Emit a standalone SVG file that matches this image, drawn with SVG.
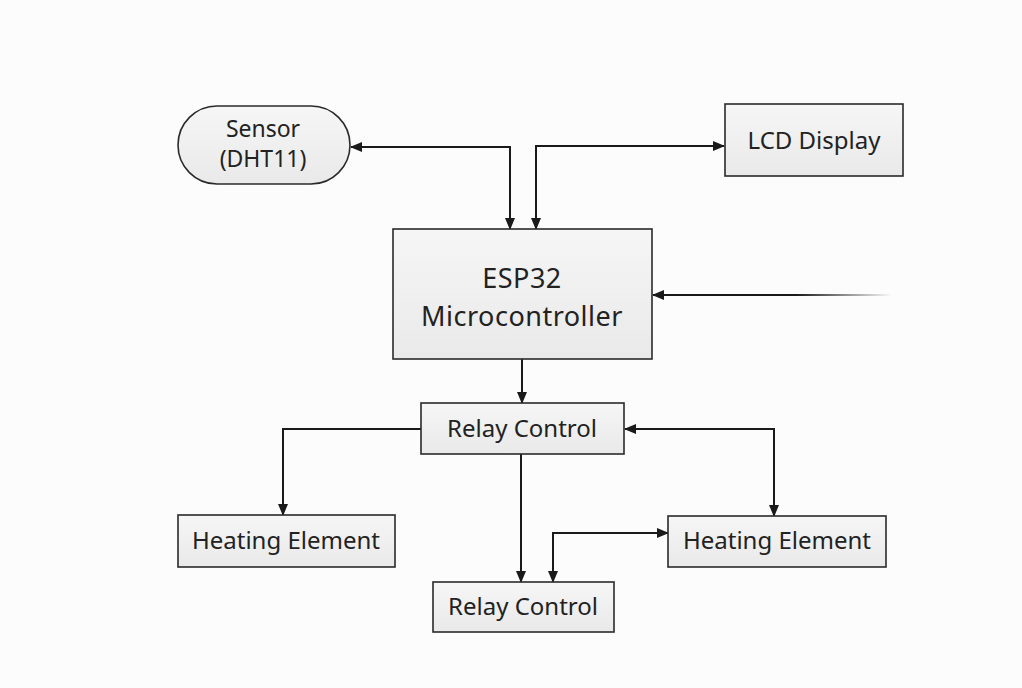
<svg xmlns="http://www.w3.org/2000/svg" width="1022" height="688" viewBox="0 0 1022 688">
<defs>
<linearGradient id="box" x1="0" y1="0" x2="0" y2="1">
<stop offset="0" stop-color="#f6f6f6"/>
<stop offset="1" stop-color="#e9e9e9"/>
</linearGradient>
<linearGradient id="fade" gradientUnits="userSpaceOnUse" x1="652" y1="0" x2="892" y2="0">
<stop offset="0" stop-color="#1a1a1a"/>
<stop offset="0.6" stop-color="#1a1a1a"/>
<stop offset="1" stop-color="#1a1a1a" stop-opacity="0"/>
</linearGradient>
<marker id="ah" markerWidth="12" markerHeight="10" refX="11" refY="5" orient="auto" markerUnits="userSpaceOnUse">
<path d="M0,0 L12,5 L0,10 Z" fill="#1a1a1a"/>
</marker>
<marker id="as" markerWidth="12" markerHeight="10" refX="1" refY="5" orient="auto" markerUnits="userSpaceOnUse">
<path d="M12,0 L0,5 L12,10 Z" fill="#1a1a1a"/>
</marker>
</defs>
<style>
.n{fill:url(#box);stroke:#2a2a2a;stroke-width:1.6}
.t{font-family:"Noto Sans","Open Sans",sans-serif;fill:#222;text-anchor:middle}
.c{fill:none;stroke:#1a1a1a;stroke-width:2}
</style>
<rect width="1022" height="688" fill="#fdfcfc"/>
<g id="connectors">
<path class="c" d="M351,147 L510,147 L510,229" marker-start="url(#as)" marker-end="url(#ah)"/>
<path class="c" d="M724,146 L536,146 L536,229" marker-start="url(#as)" marker-end="url(#ah)"/>
<path d="M892,295 L653,295" fill="none" stroke="url(#fade)" stroke-width="2" marker-end="url(#ah)"/>
<path class="c" d="M522,359 L522,403" marker-end="url(#ah)"/>
<path class="c" d="M421,429 L283,429 L283,515" marker-end="url(#ah)"/>
<path class="c" d="M521,454 L521,582" marker-end="url(#ah)"/>
<path class="c" d="M625,429 L774,429 L774,516" marker-start="url(#as)" marker-end="url(#ah)"/>
<path class="c" d="M553,582 L553,533 L668,533" marker-start="url(#as)" marker-end="url(#ah)"/>
</g>
<g id="sensor">
<rect class="n" x="178" y="106" width="172" height="78" rx="39"/>
<text class="t" x="263" y="137" font-size="23">Sensor</text>
<text class="t" x="263" y="167" font-size="23">(DHT11)</text>
</g>
<g id="lcd">
<rect class="n" x="725" y="104" width="178" height="72"/>
<text class="t" x="814" y="149" font-size="24">LCD Display</text>
</g>
<g id="esp32">
<rect class="n" x="393" y="229" width="259" height="130"/>
<text class="t" x="522" y="288" font-size="27" letter-spacing="0.5">ESP32</text>
<text class="t" x="522" y="326" font-size="27" letter-spacing="0.5">Microcontroller</text>
</g>
<g id="relay1">
<rect class="n" x="421" y="403" width="203" height="51"/>
<text class="t" x="522" y="437" font-size="24">Relay Control</text>
</g>
<g id="heating1">
<rect class="n" x="178" y="515" width="217" height="52"/>
<text class="t" x="286" y="549" font-size="24">Heating Element</text>
</g>
<g id="heating2">
<rect class="n" x="668" y="516" width="218" height="51"/>
<text class="t" x="777" y="549" font-size="24">Heating Element</text>
</g>
<g id="relay2">
<rect class="n" x="433" y="582" width="181" height="50"/>
<text class="t" x="523" y="615" font-size="24">Relay Control</text>
</g>
</svg>
